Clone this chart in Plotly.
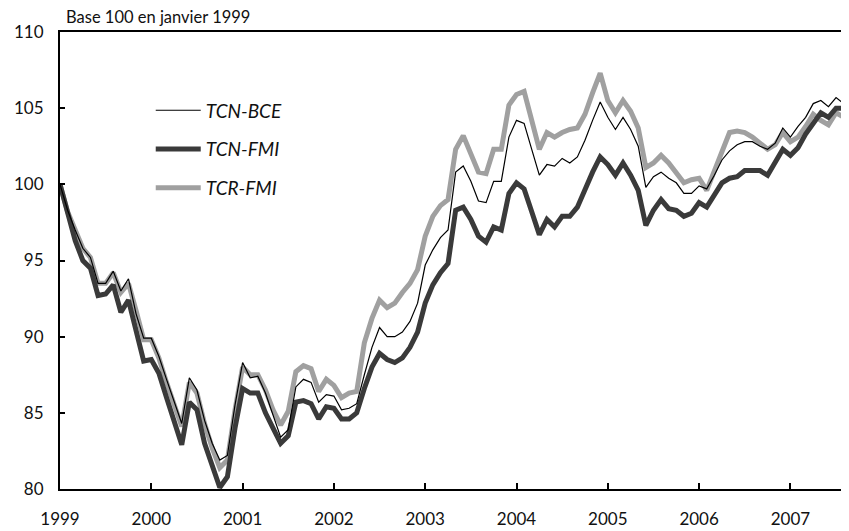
import plotly.graph_objects as go

# monthly series, base 100 = January 1999 (Jan 1999 .. Aug 2007)
tcn_bce = [
    100.0, 98.3, 97.0, 95.8, 95.2, 93.5, 93.5, 94.3, 93.0, 93.8, 91.5, 89.9,
    89.9, 88.7, 87.2, 85.7, 84.3, 87.3, 86.5, 84.5, 83.0, 81.9, 82.2, 85.5,
    88.3, 87.3, 87.4, 86.3, 84.8, 83.4, 83.9, 86.7, 87.2, 87.0, 85.7, 86.2,
    86.1, 85.2, 85.3, 85.6, 87.5, 89.3, 90.6, 90.0, 90.0, 90.3, 91.0, 92.2,
    94.7, 95.7, 96.5, 97.0, 100.8, 101.2, 100.2, 98.9, 98.8, 100.2, 100.2, 103.1,
    104.2, 104.0, 102.3, 100.6, 101.3, 101.2, 101.7, 101.4, 101.8, 102.9, 104.2, 105.4,
    104.4, 103.6, 104.4, 103.6, 102.5, 99.8, 100.5, 100.8, 100.4, 100.1, 99.4, 99.4,
    99.9, 99.7, 100.6, 101.6, 102.2, 102.6, 102.8, 102.8, 102.5, 102.3, 102.7, 103.7,
    103.1, 103.8, 104.4, 105.3, 105.5, 105.1, 105.7, 105.3,
]
tcn_fmi = [
    100.0, 98.0, 96.3, 95.0, 94.5, 92.7, 92.8, 93.4, 91.6, 92.4, 90.3, 88.4,
    88.5, 87.6, 86.0, 84.4, 82.9, 85.7, 85.2, 83.0, 81.5, 80.1, 80.8, 84.0,
    86.6, 86.3, 86.3, 85.0, 84.0, 83.0, 83.5, 85.7, 85.8, 85.6, 84.6, 85.4,
    85.3, 84.6, 84.6, 85.0, 86.6, 88.0, 88.9, 88.5, 88.3, 88.6, 89.3, 90.3,
    92.2, 93.4, 94.2, 94.8, 98.3, 98.5, 97.7, 96.6, 96.2, 97.2, 97.0, 99.4,
    100.1, 99.7, 98.2, 96.7, 97.7, 97.2, 97.9, 97.9, 98.5, 99.7, 100.8, 101.8,
    101.3, 100.6, 101.4, 100.6, 99.6, 97.3, 98.3, 99.0, 98.4, 98.3, 97.9, 98.1,
    98.8, 98.5, 99.3, 100.1, 100.4, 100.5, 100.9, 100.9, 100.9, 100.6, 101.4, 102.3,
    101.9, 102.4, 103.3, 104.0, 104.7, 104.4, 105.0, 105.0,
]
tcr_fmi = [
    100.0, 98.2, 97.0, 95.8, 95.2, 93.5, 93.5, 94.2, 92.9, 93.5, 91.7, 89.8,
    89.8, 88.6, 87.0, 85.6, 84.1, 87.0, 86.3, 84.3, 82.7, 81.4, 81.9, 85.2,
    88.0, 87.5, 87.5, 86.5, 85.2, 84.2, 85.1, 87.7, 88.1, 87.9, 86.4, 87.2,
    86.8, 86.0, 86.3, 86.4, 89.6, 91.2, 92.4, 91.9, 92.2, 92.9, 93.5, 94.4,
    96.6, 97.9, 98.6, 99.0, 102.3, 103.2, 102.0, 100.8, 100.7, 102.3, 102.3, 105.2,
    105.9, 106.1, 104.2, 102.3, 103.4, 103.1, 103.4, 103.6, 103.7, 104.6, 106.0, 107.3,
    105.5, 104.7, 105.5, 104.8, 103.7, 101.1, 101.4, 101.9, 101.4, 100.8, 100.1, 100.3,
    100.4, 99.6, 100.9, 102.3, 103.4, 103.5, 103.4, 103.1, 102.7, 102.3, 102.6, 103.4,
    102.8, 103.1, 103.8, 104.6, 104.2, 103.9, 104.7, 104.4,
]
years = list(range(1999, 2008))

months = [1999 + i / 12 for i in range(len(tcn_fmi))]
font = "Lato, 'Open Sans', sans-serif"

fig = go.Figure()
# drawn back to front; legendrank puts TCN-BCE first
fig.add_trace(go.Scatter(x=months, y=tcr_fmi, name="TCR-FMI", mode="lines",
                         legendgroup="c", legendrank=3,
                         line=dict(color="#a0a0a0", width=5)))
fig.add_trace(go.Scatter(x=months, y=tcn_fmi, name="TCN-FMI", mode="lines",
                         legendgroup="b", legendrank=2,
                         line=dict(color="#3a3a3a", width=5)))
fig.add_trace(go.Scatter(x=months, y=tcn_bce, name="TCN-BCE", mode="lines",
                         legendgroup="a", legendrank=1,
                         line=dict(color="#000000", width=1.2)))

# the page body adds an 8px offset, so the figure is 8px smaller than the window
fig.update_layout(
    width=841, height=523,
    margin=dict(l=52, r=0, t=24, b=42),
    paper_bgcolor="white", plot_bgcolor="white",
    font=dict(family=font, size=17, color="#111"),
    legend=dict(x=0.115, y=0.87, xanchor="left", yanchor="top",
                traceorder="grouped", tracegroupgap=11, itemwidth=45,
                font=dict(size=19, style="italic"), bgcolor="rgba(0,0,0,0)"),
    annotations=[dict(text="Base 100 en janvier 1999", xref="paper", yref="paper",
                      x=0.005, y=1, xanchor="left", yanchor="bottom", yshift=3,
                      showarrow=False, font=dict(size=16.5))],
)
fig.update_xaxes(range=[1999, 1999 + 103.7 / 12], tickvals=years,
                 ticktext=[str(y) for y in years], showgrid=False, zeroline=False,
                 showline=True, linecolor="black", linewidth=2, mirror=True,
                 ticks="inside", ticklen=6, tickcolor="black", tickwidth=1.5,
                 ticklabelstandoff=14)
fig.update_yaxes(range=[80, 110], tickvals=[80, 85, 90, 95, 100, 105, 110],
                 showgrid=False, zeroline=False, showline=True, linecolor="black",
                 linewidth=2, ticks="inside", ticklen=5, tickcolor="black",
                 tickwidth=1.5, ticklabelstandoff=11)

fig.write_html("out.html")
